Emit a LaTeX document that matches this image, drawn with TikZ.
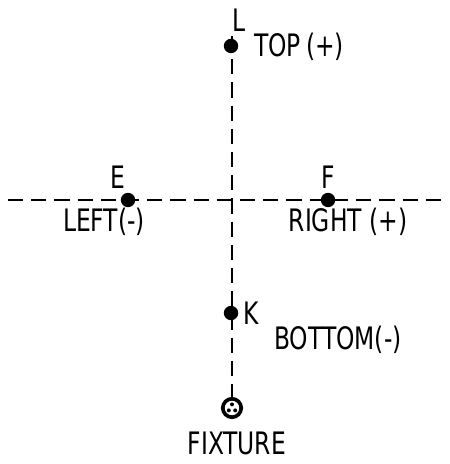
\documentclass[tikz,border=0pt]{standalone}
\usepackage{fontspec}
\setmainfont{DejaVu Sans Condensed}[FakeStretch=0.84]
\usetikzlibrary{positioning,calc}
\tikzset{
  axisline/.style={line width=1.6pt, dash pattern=on 0.38cm off 0.2cm},
  ptdot/.style={circle, fill=black, inner sep=0pt, minimum size=0.36cm},
  ptlabel/.style={font=\fontsize{22}{24}\selectfont, inner sep=1pt},
  fixture/.style={circle, draw, line width=2.6pt, inner sep=0pt, minimum size=0.46cm}
}
\begin{document}
\begin{tikzpicture}[x=0.025cm, y=-0.025cm]
    \useasboundingbox (0,0) rectangle (449,464);
    % axis ends
    \coordinate (vtop) at (232,36);
    \coordinate (hleft) at (8,200);
    \coordinate (hright) at (442,200);
    \node[fixture] (fix) at (232,408) {};
    \fill (fix.center) ++(-0.08cm,-0.06cm) circle (0.05cm)
          (fix.center) ++(0.08cm,-0.06cm) circle (0.05cm)
          (fix.center) ++(0,0.09cm) circle (0.05cm);
    \draw[axisline] (vtop) -- (fix);
    \draw[axisline] (hleft) -- (hright);
    % points
    \node[ptdot] (L) at (231,46) {};
    \node[ptdot] (E) at (128,200) {};
    \node[ptdot] (F) at (328,200) {};
    \node[ptdot] (K) at (231,313) {};
    \node[ptlabel] at (239,20) {L};
    \node[ptlabel] at (299,47) {TOP\,(+)};
    \node[ptlabel] at (118,177) {E};
    \node[ptlabel] at (104,222) {LEFT(-)};
    \node[ptlabel] at (328,177) {F};
    \node[ptlabel] at (348,222) {RIGHT (+)};
    \node[ptlabel] at (251,313) {K};
    \node[ptlabel] at (338,340) {BOTTOM(-)};
    \node[ptlabel, below=0.28cm of fix, xshift=0.12cm] (fixlbl) {FIXTURE};
\end{tikzpicture}
\end{document}
